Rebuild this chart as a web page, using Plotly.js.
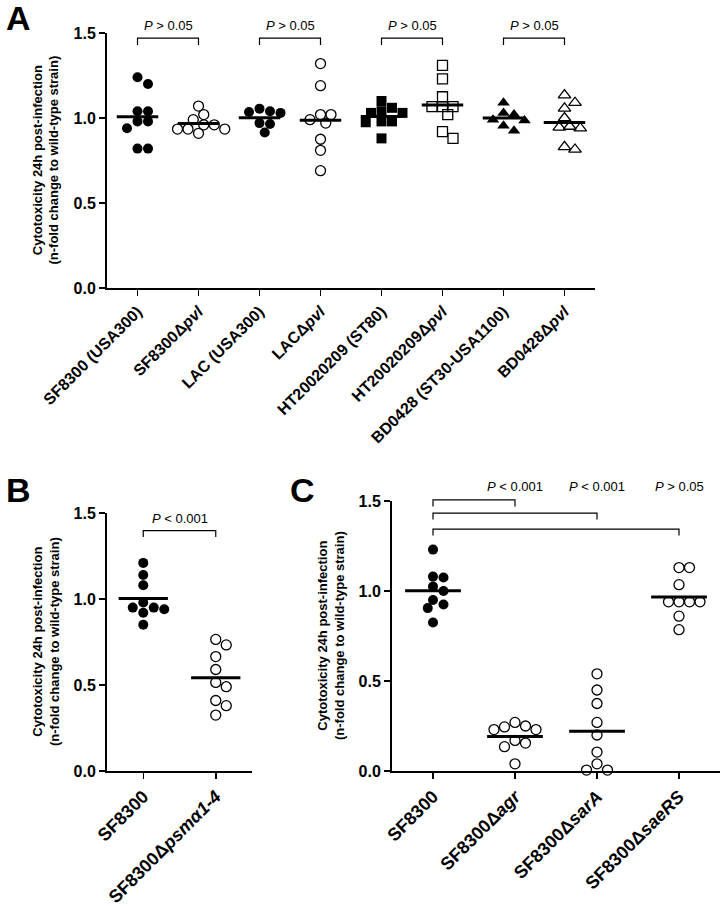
<!DOCTYPE html>
<html><head><meta charset="utf-8">
<script src="https://cdn.plot.ly/plotly-3.0.1.min.js"></script>
<style>html,body{margin:0;padding:0;background:#fff}#chart{width:724px;height:906px}</style>
</head><body><div id="chart"></div>
<script>
// ---------------- DATA ----------------
// Panel A
const labelsA = ["SF8300 (USA300)", "SF8300Δ<i>pvl</i>", "LAC (USA300)", "LACΔ<i>pvl</i>",
                 "HT20020209 (ST80)", "HT20020209Δ<i>pvl</i>", "BD0428 (ST30-USA1100)", "BD0428Δ<i>pvl</i>"];
const aSF8300   = [1.24, 1.20, 1.04, 1.04, 0.98, 0.98, 0.94, 0.82, 0.82];
const aSF8300d  = [1.07, 1.02, 0.99, 0.96, 0.96, 0.935, 0.935, 0.935, 0.91];
const aLAC      = [1.055, 1.04, 1.035, 1.03, 0.97, 0.965, 0.915];
const aLACd     = [1.32, 1.19, 1.02, 1.02, 0.99, 0.97, 0.875, 0.81, 0.69];
const aHT       = [1.10, 1.06, 1.04, 1.03, 1.03, 0.98, 0.98, 0.975, 0.88];
const aHTd      = [1.31, 1.23, 1.125, 1.067, 1.067, 1.067, 1.02, 0.92, 0.88];
const aBD       = [1.09, 1.03, 1.02, 0.99, 0.985, 0.955, 0.925];
const aBDd      = [1.135, 1.09, 1.057, 1.0, 0.95, 0.945, 0.94, 0.83, 0.815];
const compA = [[0,1,"<i>P</i> &gt; 0.05"],[2,3,"<i>P</i> &gt; 0.05"],[4,5,"<i>P</i> &gt; 0.05"],[6,7,"<i>P</i> &gt; 0.05"]];
// Panel B
const labelsB = ["SF8300", "SF8300Δ<i>psmα1-4</i>"];
const bSF8300 = [1.21, 1.14, 1.08, 0.98, 0.95, 0.95, 0.94, 0.92, 0.85];
const bPsm    = [0.765, 0.733, 0.665, 0.59, 0.515, 0.49, 0.41, 0.38, 0.325];
const compB = [[0,1,"<i>P</i> &lt; 0.001"]];
// Panel C
const labelsC = ["SF8300", "SF8300Δ<i>agr</i>", "SF8300Δ<i>sarA</i>", "SF8300Δ<i>saeRS</i>"];
const cSF8300 = [1.23, 1.08, 1.075, 1.025, 1.0, 0.95, 0.925, 0.905, 0.825];
const cAgr    = [0.27, 0.25, 0.245, 0.23, 0.23, 0.17, 0.155, 0.135, 0.04];
const cSarA   = [0.54, 0.45, 0.375, 0.27, 0.2, 0.105, 0.04, 0.005, 0.005];
const cSaeRS  = [1.13, 1.13, 1.035, 0.94, 0.94, 0.94, 0.94, 0.86, 0.785];
const compC = [[0,1,"<i>P</i> &lt; 0.001"],[0,2,"<i>P</i> &lt; 0.001"],[0,3,"<i>P</i> &gt; 0.05"]];

// ---------------- LAYOUT / STYLE ----------------
const W = 724, H = 906;
const FONT = "Arial, 'Liberation Sans', sans-serif";
const panels = {
  A: {xa:'x',  ya:'y',  xdom:[107,595], ydom:[33,288],  xr:[-0.5,7.5], yr:[0,1.5],
      labels: labelsA, xfont:16,
      groups: [[aSF8300,'circle'],[aSF8300d,'circle-open'],[aLAC,'circle'],[aLACd,'circle-open'],
               [aHT,'square'],[aHTd,'square-open'],[aBD,'triangle-up'],[aBDd,'triangle-up-open']],
      comps: compA, bar:[1.47,1.47,1.47,1.47], tip:0.04, text:1.545, letter:'A', lx:18, ly:18, tx:46},
  B: {xa:'x2', ya:'y2', xdom:[107,252], ydom:[513,771], xr:[-0.5,1.5], yr:[0,1.5],
      labels: labelsB, xfont:18, groups: [[bSF8300,'circle'],[bPsm,'circle-open']],
      comps: compB, bar:[1.397], tip:0.037, text:1.47, letter:'B', lx:18, ly:490, tx:46},
  C: {xa:'x3', ya:'y3', xdom:[392,720], ydom:[501,771], xr:[-0.5,3.5], yr:[0,1.5],
      labels: labelsC, xfont:18, groups: [[cSF8300,'circle'],[cAgr,'circle-open'],[cSarA,'circle-open'],[cSaeRS,'circle-open']],
      comps: compC, bar:[1.506,1.433,1.344], tip:0.036, text:1.583, letter:'C', lx:302, ly:490, tx:331}
};

function paperY(p, v){
  const y0 = 1 - p.ydom[1]/H, y1 = 1 - p.ydom[0]/H;
  return y0 + (v - p.yr[0])/(p.yr[1]-p.yr[0])*(y1-y0);
}
function paperX(p, v){
  const x0 = p.xdom[0]/W, x1 = p.xdom[1]/W;
  return x0 + (v - p.xr[0])/(p.xr[1]-p.xr[0])*(x1-x0);
}

// beeswarm offsets computed from values (in category units)
function swarm(vals, xppu, yppu, D){
  const idx = vals.map((v,i)=>i).sort((a,b)=>vals[b]-vals[a]);
  const placed = [], off = new Array(vals.length).fill(0);
  const step = 0.5*D, minD = 0.9*D;
  idx.forEach(i=>{
    const y = vals[i]*yppu;
    for(let k=0;k<60;k++){
      const c = k===0 ? 0 : (k%2 ? 1 : -1)*Math.ceil(k/2)*step;
      if(placed.every(p=>Math.hypot(p.x-c,p.y-y) >= minD)){ off[i]=c; placed.push({x:c,y:y}); break; }
    }
  });
  return off.map(o=>o/xppu);
}

const traces = [], shapes = [], annotations = [];
const layout = {
  width: W, height: H, margin:{l:0,r:0,t:0,b:0},
  paper_bgcolor:'#fff', plot_bgcolor:'#fff', showlegend:false,
  font:{family:FONT, color:'#000'}
};

Object.values(panels).forEach(p=>{
  const xppu = (p.xdom[1]-p.xdom[0])/(p.xr[1]-p.xr[0]);
  const yppu = (p.ydom[1]-p.ydom[0])/(p.yr[1]-p.yr[0]);
  const xkey = 'xaxis' + p.xa.slice(1), ykey = 'yaxis' + p.ya.slice(1);
  layout[xkey] = {
    domain:[p.xdom[0]/W, p.xdom[1]/W], range:p.xr, anchor:p.ya,
    tickmode:'array', tickvals:p.labels.map((l,i)=>i), ticktext:p.labels,
    tickangle:-45, ticks:'outside', ticklen:6, tickwidth:1.5, tickcolor:'#000',
    showline:true, linewidth:2, linecolor:'#000', showgrid:false, zeroline:false,
    tickfont:{family:FONT, size:p.xfont, weight:'bold', color:'#000'}, fixedrange:true
  };
  layout[ykey] = {
    domain:[1-p.ydom[1]/H, 1-p.ydom[0]/H], range:p.yr, anchor:p.xa,
    tickmode:'array', tickvals:[0,0.5,1,1.5], tickformat:'.1f',
    ticks:'outside', ticklen:6, tickwidth:1.5, tickcolor:'#000',
    showline:true, linewidth:2, linecolor:'#000', showgrid:false, zeroline:false,
    tickfont:{family:FONT, size:16, weight:'bold', color:'#000'}, fixedrange:true
  };
  p.groups.forEach((g,i)=>{
    const vals = g[0], sym = g[1], open = sym.endsWith('open');
    const isTri = sym.startsWith('triangle');
    const offs = swarm(vals, xppu, yppu, 10.5);
    traces.push({type:'scatter', mode:'markers', xaxis:p.xa, yaxis:p.ya,
      x: vals.map((v,k)=>i+offs[k]), y: vals, cliponaxis:false, hoverinfo:'y',
      marker:{symbol:sym, size: isTri?11:10, color:'#000', line:{color:'#000', width: open?1.3:0}}});
    const m = vals.reduce((s,v)=>s+v,0)/vals.length;
    traces.push({type:'scatter', mode:'lines', xaxis:p.xa, yaxis:p.ya,
      x:[i-0.34, i+0.34], y:[m,m], cliponaxis:false, hoverinfo:'skip',
      line:{color:'#000', width:3}});
  });
  p.comps.forEach((c,k)=>{
    const yb = paperY(p, p.bar[k]), yt = paperY(p, p.bar[k]-p.tip);
    const xa = paperX(p, c[0]), xb = paperX(p, c[1]);
    shapes.push({type:'path', xref:'paper', yref:'paper',
      path:`M${xa},${yt} L${xa},${yb} L${xb},${yb} L${xb},${yt}`,
      line:{color:'#000', width:1.2}});
    const tx = p.letter==='C' ? xb : (xa+xb)/2;
    annotations.push({xref:'paper', yref:'paper', x:tx, y:paperY(p,p.text),
      text:c[2], showarrow:false, xanchor:'center', yanchor:'middle',
      font:{family:FONT, size:13, color:'#000'}});
  });
  annotations.push({xref:'paper', yref:'paper', x:p.tx/W, y:(1-(p.ydom[0]+p.ydom[1])/2/H),
    text:'Cytotoxicity 24h post-infection<br>(n-fold change to wild-type strain)',
    textangle:-90, showarrow:false, xanchor:'center', yanchor:'middle',
    font:{family:FONT, size:13, weight:'bold', color:'#000'}});
  annotations.push({xref:'paper', yref:'paper', x:p.lx/W, y:1-p.ly/H, text:p.letter,
    showarrow:false, xanchor:'center', yanchor:'middle',
    font:{family:FONT, size:34, weight:'bold', color:'#000'}});
});
layout.shapes = shapes;
layout.annotations = annotations;
Plotly.newPlot('chart', traces, layout, {displayModeBar:false, staticPlot:true});
</script>
</body></html>
